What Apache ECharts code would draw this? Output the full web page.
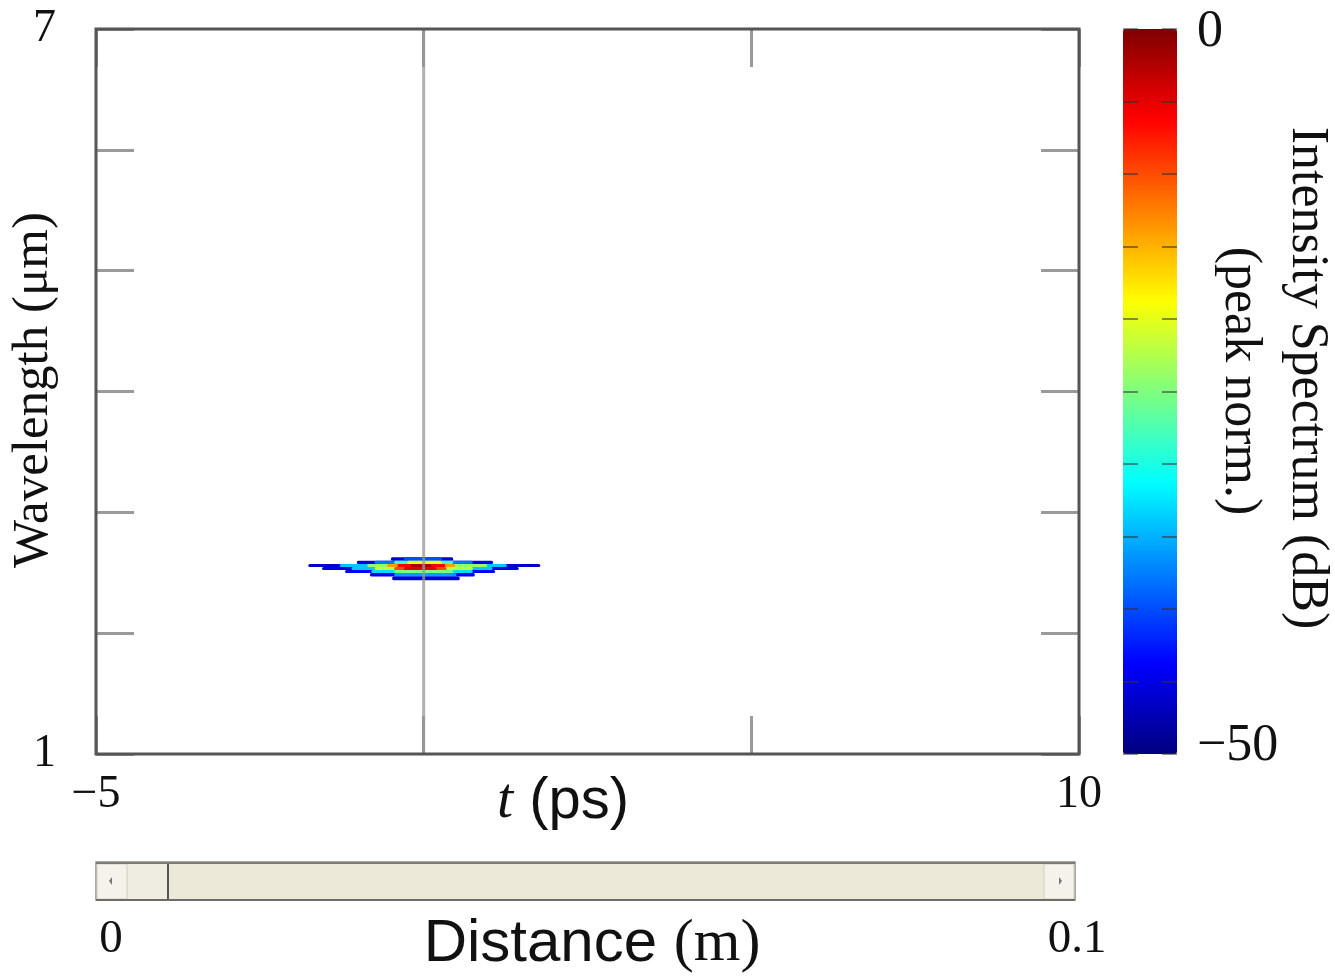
<!DOCTYPE html>
<html>
<head>
<meta charset="utf-8">
<title>Spectrogram</title>
<script src="https://cdn.jsdelivr.net/npm/echarts@6/dist/echarts.min.js"></script>
<style>
  html, body { margin: 0; padding: 0; background: #ffffff; }
  #chart { width: 1335px; height: 978px; }
</style>
</head>
<body>
<div id="chart"></div>
<script>
// Axis ranges and tick labels
const timeRange = [-5, 10];
const timeTickLabels = { '-5': '\u22125', '10': '10' };
const wavelengthRange = [1, 7];
const wavelengthTickLabels = { '1': '1', '7': '7' };
const dbRange = [-50, 0];
const dbTickLabels = { '0': '{top|0}', '-50': '{bot|\u221250}' };

// Spectrogram: wavelength rows (µm), each with [tStart, tEnd, dB] segments,
// listed from the faint outer level to the bright core
const spectrumRows = [
  { lambda: [2.600, 2.628], segments: [[-0.50, 0.45, -46], [-0.30, 0.28, -40]] },
  { lambda: [2.573, 2.600], segments: [[-1.02, 1.06, -45], [-0.75, 0.75, -38], [-0.45, 0.45, -28], [-0.25, 0.28, -20]] },
  { lambda: [2.548, 2.573], segments: [[-1.76, 1.78, -46], [-1.28, 1.27, -34], [-0.86, 0.97, -24], [-0.56, 0.48, -14], [-0.40, 0.33, -6], [-0.20, 0.12, -2]] },
  { lambda: [2.523, 2.548], segments: [[-1.55, 1.45, -45], [-1.10, 1.05, -34], [-0.75, 0.75, -22], [-0.45, 0.35, -10], [-0.30, 0.20, -5]] },
  { lambda: [2.498, 2.523], segments: [[-1.20, 1.09, -44], [-0.80, 0.75, -33], [-0.45, 0.45, -25]] },
  { lambda: [2.468, 2.498], segments: [[-0.82, 0.78, -44], [-0.45, 0.50, -36]] },
  { lambda: [2.438, 2.468], segments: [[-0.48, 0.55, -46]] }
];

// Time cursor
const cursorTime = 0;

// Propagation distance slider
const distanceRange = [0, 0.1];
const distanceTickLabels = ['0', '0.1'];
const currentDistance = 0;

// Jet colour map
const jetColors = ['#00007F', '#0000FF', '#007FFF', '#00FFFF', '#7FFF7F', '#FFFF00', '#FF7F00', '#FF0000', '#7F0000'];

const cells = spectrumRows.flatMap(r =>
  r.segments.map(s => [s[0], s[1], r.lambda[0], r.lambda[1], s[2]])
);

const SERIF = "'Liberation Serif', 'DejaVu Serif', serif";
const SANS = "'Liberation Sans', Arial, sans-serif";
const FRAME = '#555555';
const TICK = '#9a9a9a';

const chart = echarts.init(document.getElementById('chart'), null, { renderer: 'canvas' });

// plot box
const plotL = 96, plotT = 29, plotW = 983, plotH = 725;

// slider geometry
const sliderX = 96, sliderY = 862, sliderW = 979, sliderH = 38;
const btnW = 31, thumbW = 40;
const trackStart = sliderX + btnW + 1;
const trackEnd = sliderX + sliderW - btnW;
const thumbX = trackStart + (currentDistance - distanceRange[0]) / (distanceRange[1] - distanceRange[0]) * (trackEnd - trackStart - thumbW);

const plainAxis = {
  axisLine: { show: false, onZero: false },
  axisTick: { show: true, inside: true, length: 38, lineStyle: { color: TICK, width: 3 } },
  splitLine: { show: false }
};

const option = {
  backgroundColor: '#ffffff',
  animation: false,
  grid: [
    { left: plotL, top: plotT, width: plotW, height: plotH, show: false },
    { left: 1123, top: 29, width: 54, height: 725, show: false }
  ],
  xAxis: [
    Object.assign({
      gridIndex: 0, type: 'value', min: timeRange[0], max: timeRange[1], interval: 5,
      position: 'bottom',
      axisLabel: {
        show: true, margin: 18, fontFamily: SERIF, fontSize: 46, color: '#111',
        formatter: v => timeTickLabels[String(v)] || ''
      }
    }, plainAxis),
    Object.assign({
      gridIndex: 0, type: 'value', min: timeRange[0], max: timeRange[1], interval: 5,
      position: 'top',
      axisLabel: { show: false }
    }, plainAxis),
    { gridIndex: 1, type: 'value', min: 0, max: 1, show: false }
  ],
  yAxis: [
    Object.assign({
      gridIndex: 0, type: 'value', min: wavelengthRange[0], max: wavelengthRange[1], interval: 1,
      position: 'left',
      axisLabel: {
        show: true, margin: 40, fontFamily: SERIF, fontSize: 46, color: '#111',
        formatter: v => wavelengthTickLabels[String(v)] || ''
      }
    }, plainAxis),
    Object.assign({
      gridIndex: 0, type: 'value', min: wavelengthRange[0], max: wavelengthRange[1], interval: 1,
      position: 'right',
      axisLabel: { show: false }
    }, plainAxis),
    {
      gridIndex: 1, type: 'value', min: dbRange[0], max: dbRange[1], interval: 5,
      position: 'left', z: 10,
      axisLine: { show: false, onZero: false },
      axisTick: { show: true, inside: true, length: 15, lineStyle: { color: 'rgba(50,50,50,0.55)', width: 2 } },
      axisLabel: { show: false },
      splitLine: { show: false }
    },
    {
      gridIndex: 1, type: 'value', min: dbRange[0], max: dbRange[1], interval: 5,
      position: 'right', z: 10,
      axisLine: { show: false, onZero: false },
      axisTick: { show: true, inside: true, length: 15, lineStyle: { color: 'rgba(50,50,50,0.55)', width: 2 } },
      axisLabel: {
        show: true, margin: 20, fontFamily: SERIF, fontSize: 52, color: '#111',
        formatter: v => dbTickLabels[String(v)] || '',
        rich: {
          top: { fontFamily: SERIF, fontSize: 52, color: '#111', padding: [6, 0, 0, 0] },
          bot: { fontFamily: SERIF, fontSize: 52, color: '#111', padding: [0, 0, 16, 0] }
        }
      },
      splitLine: { show: false }
    }
  ],
  visualMap: {
    type: 'continuous',
    seriesIndex: 0,
    dimension: 4,
    min: dbRange[0],
    max: dbRange[1],
    orient: 'vertical',
    left: 1123,
    top: 29,
    itemWidth: 54,
    itemHeight: 725,
    padding: 0,
    calculable: false,
    hoverLink: false,
    showLabel: false,
    text: null,
    inRange: { color: jetColors },
    z: 4
  },
  series: [
    {
      type: 'custom',
      name: 'Intensity spectrum',
      xAxisIndex: 0,
      yAxisIndex: 0,
      dimensions: ['t0', 't1', 'lambda0', 'lambda1', 'dB'],
      encode: { x: [0, 1], y: [2, 3] },
      data: cells,
      z: 2,
      renderItem: function (params, api) {
        const a = api.coord([api.value(0), api.value(3)]);
        const b = api.coord([api.value(1), api.value(2)]);
        return {
          type: 'rect',
          shape: { x: a[0], y: a[1], width: b[0] - a[0], height: b[1] - a[1], r: 1.5 },
          style: { fill: api.visual('color') }
        };
      }
    },
    {
      type: 'line',
      name: 'cursor',
      xAxisIndex: 0,
      yAxisIndex: 0,
      data: [[cursorTime, wavelengthRange[0]], [cursorTime, wavelengthRange[1]]],
      symbol: 'none',
      silent: true,
      z: 5,
      lineStyle: { color: 'rgba(150,150,150,0.75)', width: 3 }
    }
  ],
  graphic: [
    // plot frame, drawn above the ticks
    {
      type: 'rect', z: 50, silent: true,
      shape: { x: plotL, y: plotT, width: plotW, height: plotH },
      style: { fill: null, stroke: FRAME, lineWidth: 3 }
    },
    {
      type: 'text', x: 34, y: 390, rotation: Math.PI / 2,
      style: { text: 'Wavelength (\u03bcm)', font: '51px ' + SERIF, fill: '#111', textAlign: 'center', textVerticalAlign: 'middle' }
    },
    {
      type: 'text', x: 563, y: 802,
      style: {
        text: '{i|t}{s| (ps)}',
        textAlign: 'center', textVerticalAlign: 'middle', fill: '#111',
        rich: {
          i: { fontFamily: SERIF, fontStyle: 'italic', fontSize: 58, fill: '#111' },
          s: { fontFamily: SANS, fontSize: 58, fill: '#111' }
        }
      }
    },
    {
      type: 'text', x: 1307, y: 378, rotation: -Math.PI / 2,
      style: { text: 'Intensity Spectrum (dB)', font: '52px ' + SERIF, fill: '#111', textAlign: 'center', textVerticalAlign: 'middle' }
    },
    {
      type: 'text', x: 1240, y: 381, rotation: -Math.PI / 2,
      style: { text: '(peak norm.)', font: '52px ' + SERIF, fill: '#111', textAlign: 'center', textVerticalAlign: 'middle' }
    },
    // distance slider
    {
      type: 'rect', shape: { x: sliderX, y: sliderY, width: sliderW, height: sliderH },
      style: { fill: '#ECE9D8', stroke: '#8f8d85', lineWidth: 1.5 }
    },
    {
      type: 'rect', shape: { x: sliderX + 1, y: sliderY + 2, width: btnW - 1, height: sliderH - 3 },
      style: { fill: '#F4F2EA', stroke: '#d2cfc2', lineWidth: 1 }
    },
    {
      type: 'polygon', shape: { points: [[sliderX + 16, sliderY + 15], [sliderX + 13, sliderY + 19], [sliderX + 16, sliderY + 23]] },
      style: { fill: '#777' }
    },
    {
      type: 'rect', shape: { x: sliderX + sliderW - btnW, y: sliderY + 2, width: btnW - 1, height: sliderH - 3 },
      style: { fill: '#F4F2EA', stroke: '#d2cfc2', lineWidth: 1 }
    },
    {
      type: 'polygon', shape: { points: [[sliderX + sliderW - 16, sliderY + 15], [sliderX + sliderW - 13, sliderY + 19], [sliderX + sliderW - 16, sliderY + 23]] },
      style: { fill: '#777' }
    },
    {
      type: 'rect', shape: { x: thumbX, y: sliderY + 2, width: thumbW, height: sliderH - 3 },
      style: { fill: '#EFECE2' }
    },
    {
      type: 'line', shape: { x1: thumbX + thumbW, y1: sliderY + 2, x2: thumbX + thumbW, y2: sliderY + sliderH - 1 },
      style: { stroke: '#555', lineWidth: 2 }
    },
    {
      type: 'line', shape: { x1: sliderX, y1: sliderY + 1, x2: sliderX + sliderW, y2: sliderY + 1 },
      style: { stroke: '#7d7b74', lineWidth: 2 }
    },
    {
      type: 'line', shape: { x1: sliderX, y1: sliderY + sliderH, x2: sliderX + sliderW, y2: sliderY + sliderH },
      style: { stroke: '#6e6c66', lineWidth: 2 }
    },
    {
      type: 'text', x: 111, y: 940,
      style: { text: distanceTickLabels[0], font: '47px ' + SERIF, fill: '#111', textAlign: 'center', textVerticalAlign: 'middle' }
    },
    {
      type: 'text', x: 1077, y: 940,
      style: { text: distanceTickLabels[1], font: '47px ' + SERIF, fill: '#111', textAlign: 'center', textVerticalAlign: 'middle' }
    },
    {
      type: 'text', x: 592, y: 944,
      style: {
        text: '{s|Distance }{r|(m)}',
        textAlign: 'center', textVerticalAlign: 'middle', fill: '#111',
        rich: {
          s: { fontFamily: SANS, fontSize: 60, fill: '#111' },
          r: { fontFamily: SERIF, fontSize: 60, fill: '#111' }
        }
      }
    }
  ]
};

chart.setOption(option);
</script>
</body>
</html>
